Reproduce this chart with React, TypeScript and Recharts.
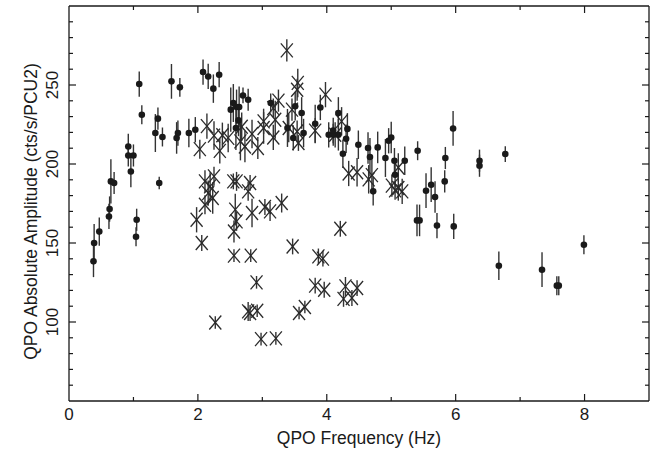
import { ScatterChart, Scatter, XAxis, YAxis, ErrorBar } from "recharts";

// filled circles: frequency (Hz), amplitude, 1-sigma error
const dotFreq = [
  0.38, 0.39, 0.47, 0.62, 0.63, 0.65, 0.7, 0.92, 0.92, 1.0, 0.96, 1.05, 1.04, 1.09, 1.13, 1.38, 1.34, 1.45, 1.4, 1.59,
  1.72, 1.67, 1.69, 1.86, 1.96, 2.08, 2.16, 2.24, 2.33, 2.51, 2.55, 2.6, 2.64, 2.63, 2.59, 2.7, 2.78, 3.13, 3.51, 3.61,
  3.39, 3.48, 3.64, 3.82, 3.9, 4.03, 4.1, 4.18, 4.18, 4.32, 4.3, 4.25, 4.49, 4.64, 4.67, 4.79, 4.72, 4.96, 5.0, 4.91,
  5.05, 5.21, 5.06, 5.41, 5.96, 5.84, 5.83, 5.62, 5.54, 5.68, 5.4, 5.44, 5.71, 5.97, 6.37, 6.37, 6.77, 6.67, 7.34, 7.57,
  7.6, 7.99, 4.1,
];
const dotAmp = [
  138.4, 150, 157.2, 166.8, 171.5, 189, 188, 211.1, 205.4, 205.4, 195.3, 164.7, 154, 250.6, 231.2, 228.7, 219.6, 217.1, 188, 252.3,
  248.5, 216.5, 219.6, 219.6, 221.7, 258.2, 255.4, 247.7, 256.5, 234.4, 238.6, 236.1, 236.1, 227.6, 222.8, 243.4, 240.7, 238.6, 236.5, 232.3,
  222.8, 216.5, 219.6, 225.5, 235.8, 218.5, 218.5, 218.5, 232.3, 222.2, 216, 206.5, 212.2, 210.1, 204.4, 210.5, 182.7, 214.7, 216.8, 203.8,
  202.1, 202.1, 193.2, 208.4, 222.5, 203.8, 189, 186.9, 183.1, 179.1, 164.3, 164.3, 161, 160.5, 202.1, 198.9, 206.3, 135.6, 133.1, 123,
  123, 148.9, 221.2,
];
const dotErr = [
  10, 12, 9, 8, 8, 14, 7, 8, 7, 7, 10, 7, 6, 8, 6, 7, 12, 6, 4, 11,
  6, 10, 8, 9, 8, 8, 8, 9, 8, 14, 12, 11, 13, 10, 14, 5, 7, 6, 9, 10,
  12, 8, 9, 12, 8, 8, 7, 10, 10, 10, 9, 9, 9, 10, 12, 10, 9, 8, 10, 12,
  8, 9, 8, 6, 11, 7, 7, 11, 11, 10, 10, 10, 8, 8, 7, 7, 5, 9, 11, 6,
  6, 6, 8,
];

// crosses
const crossFreq = [
  2.14, 2.03, 2.25, 2.38, 2.47, 2.34, 2.68, 2.73, 2.84, 2.93, 2.66, 3.02, 3.02, 3.2, 3.17, 3.25, 3.17, 3.38, 3.55, 3.54,
  3.46, 3.41, 3.54, 3.56, 3.82, 3.98, 4.23, 4.13, 4.34, 4.47, 4.65, 4.7, 5.11, 5.01, 5.11, 5.17, 5.06, 2.11, 2.25, 2.19,
  2.16, 2.23, 2.11, 1.98, 2.06, 2.55, 2.6, 2.81, 2.78, 2.58, 2.6, 2.56, 2.84, 3.04, 3.12, 3.3, 4.21, 2.56, 2.82, 3.47,
  3.87, 3.94, 2.91, 3.82, 3.96, 4.29, 4.47, 4.26, 4.39, 2.78, 2.81, 2.92, 3.57, 3.66, 2.98, 3.21, 2.27,
];
const crossAmp = [
  224, 209.4, 218, 218.2, 216.5, 208.3, 223.6, 211.1, 219, 210.1, 214.3, 227, 222.8, 228, 216.8, 240.1, 235.4, 271.9, 251.3, 247,
  234.4, 222.8, 220.6, 213.3, 221.1, 243.9, 227, 218.5, 194, 194.8, 190.3, 193, 197.8, 186.3, 184.8, 182.7, 183.3, 189, 192.2, 185.8,
  181.6, 178.5, 174.2, 164.7, 150, 189, 189, 188, 182.7, 171.1, 163.7, 157.3, 169, 172.8, 170, 175.3, 159, 142, 142, 147.8,
  141.5, 140.1, 125.1, 123, 120.4, 122.5, 121.5, 114.6, 115.2, 106.7, 105.7, 107.1, 105.7, 109.5, 89.2, 89.6, 99.7,
];
const crossErr = [
  8, 6, 9, 8, 9, 8, 9, 10, 9, 7, 12, 8, 10, 12, 8, 7, 6, 7, 9, 7,
  7, 9, 7, 5, 8, 8, 9, 8, 8, 9, 9, 10, 9, 7, 8, 8, 6, 7, 6, 9,
  8, 10, 6, 8, 5, 5, 6, 5, 6, 10, 6, 7, 9, 5, 6, 6, 5, 4, 4, 5,
  5, 5, 4, 5, 5, 6, 5, 5, 5, 6, 5, 4, 4, 4, 4, 4, 4,
];

const xTicks = [0, 1, 2, 3, 4, 5, 6, 7, 8, 9];
const xLabels = [0, 2, 4, 6, 8];
const yTicks = [60, 70, 80, 90, 100, 110, 120, 130, 140, 150, 160, 170, 180, 190, 200, 210, 220, 230, 240, 250, 260, 270, 280, 290];
const yLabels = [100, 150, 200, 250];

const dots = dotFreq.map((f, i) => ({ freq: f, amp: dotAmp[i], err: dotErr[i] }));
const crosses = crossFreq.map((f, i) => ({ freq: f, amp: crossAmp[i], err: crossErr[i] }));

const FONT = "'Liberation Sans', Arial, Helvetica, sans-serif";
const INK = "#1a1a1a";

const BottomTick = ({ x, y, payload }: any) => {
  const v = payload.value;
  const len = v % 2 === 0 ? 7 : 4;
  return (
    <g>
      {v > 0 && v < 9 && <line x1={x} x2={x} y1={y} y2={y - len} stroke={INK} strokeWidth={1.2} />}
      {xLabels.includes(v) && (
        <text x={x} y={y + 19} textAnchor="middle" fontSize={17} fontFamily={FONT} fill={INK}>
          {v}
        </text>
      )}
    </g>
  );
};

const TopTick = ({ x, y, payload }: any) => {
  const v = payload.value;
  const len = v % 2 === 0 ? 7 : 4;
  if (v <= 0 || v >= 9) return <g />;
  return <line x1={x} x2={x} y1={y} y2={y + len} stroke={INK} strokeWidth={1.2} />;
};

const LeftTick = ({ x, y, payload }: any) => {
  const v = payload.value;
  const len = v % 50 === 0 ? 7 : 4;
  return (
    <g>
      <line x1={x} x2={x + len} y1={y} y2={y} stroke={INK} strokeWidth={1.2} />
      {yLabels.includes(v) && (
        <text
          x={x - 11}
          y={y}
          transform={`rotate(-90 ${x - 11} ${y})`}
          textAnchor="middle"
          fontSize={17}
          fontFamily={FONT}
          fill={INK}
        >
          {v}
        </text>
      )}
    </g>
  );
};

const RightTick = ({ x, y, payload }: any) => {
  const v = payload.value;
  const len = v % 50 === 0 ? 7 : 4;
  return <line x1={x} x2={x - len} y1={y} y2={y} stroke={INK} strokeWidth={1.2} />;
};

const Dot = (p: any) => <circle cx={p.cx} cy={p.cy} r={3.3} fill={INK} />;

const Cross = (p: any) => (
  <g stroke="#2a2a2a" strokeWidth={1.3}>
    <line x1={p.cx - 6} y1={p.cy - 7} x2={p.cx + 6} y2={p.cy + 7} />
    <line x1={p.cx - 6} y1={p.cy + 7} x2={p.cx + 6} y2={p.cy - 7} />
  </g>
);

const Nothing = () => <g />;

const XTitle = ({ viewBox }: any) => (
  <text
    x={viewBox.x + viewBox.width / 2}
    y={viewBox.y + 43}
    textAnchor="middle"
    fontSize={17.5}
    fontFamily={FONT}
    fill={INK}
  >
    QPO Frequency (Hz)
  </text>
);

const YTitle = ({ viewBox }: any) => {
  const cx = 37;
  const cy = viewBox.y + viewBox.height / 2 + 8;
  return (
    <text
      x={cx}
      y={cy}
      transform={`rotate(-90 ${cx} ${cy})`}
      textAnchor="middle"
      fontSize={17.5}
      fontFamily={FONT}
      fill={INK}
    >
      QPO Absolute Amplitude (cts/s/PCU2)
    </text>
  );
};

export default function App() {
  return (
    <div style={{ position: "absolute", left: 0, top: 0, width: 660, height: 449, background: "#fff" }}>
      <ScatterChart width={660} height={449} margin={{ top: 5, right: 10, bottom: 0, left: 0 }}>
        <XAxis
          xAxisId="b"
          dataKey="freq"
          type="number"
          domain={[0, 9]}
          allowDataOverflow
          ticks={xTicks}
          interval={0}
          height={48}
          tickSize={0}
          tickMargin={0}
          tickLine={false}
          axisLine={{ stroke: INK, strokeWidth: 1.3 }}
          tick={<BottomTick />}
          label={<XTitle />}
        />
        <XAxis
          xAxisId="t"
          dataKey="freq"
          orientation="top"
          type="number"
          domain={[0, 9]}
          allowDataOverflow
          ticks={xTicks}
          interval={0}
          height={1}
          tickSize={0}
          tickMargin={0}
          tickLine={false}
          axisLine={{ stroke: INK, strokeWidth: 1.3 }}
          tick={<TopTick />}
        />
        <YAxis
          yAxisId="l"
          dataKey="amp"
          type="number"
          domain={[50, 300]}
          allowDataOverflow
          ticks={yTicks}
          interval={0}
          width={69}
          tickSize={0}
          tickMargin={0}
          tickLine={false}
          axisLine={{ stroke: INK, strokeWidth: 1.3 }}
          tick={<LeftTick />}
          label={<YTitle />}
        />
        <YAxis
          yAxisId="r"
          dataKey="amp"
          orientation="right"
          type="number"
          domain={[50, 300]}
          allowDataOverflow
          ticks={yTicks}
          interval={0}
          width={1}
          tickSize={0}
          tickMargin={0}
          tickLine={false}
          axisLine={{ stroke: INK, strokeWidth: 1.3 }}
          tick={<RightTick />}
        />
        {/* hidden series bound to the frame axes */}
        <Scatter data={dots} xAxisId="t" yAxisId="r" shape={Nothing} isAnimationActive={false} />
        <Scatter data={crosses} xAxisId="b" yAxisId="l" shape={Cross} isAnimationActive={false}>
          <ErrorBar dataKey="err" direction="y" width={0} stroke="#333" strokeWidth={1.4} />
        </Scatter>
        <Scatter data={dots} xAxisId="b" yAxisId="l" shape={Dot} isAnimationActive={false}>
          <ErrorBar dataKey="err" direction="y" width={0} stroke="#333" strokeWidth={1.4} />
        </Scatter>
      </ScatterChart>
    </div>
  );
}
